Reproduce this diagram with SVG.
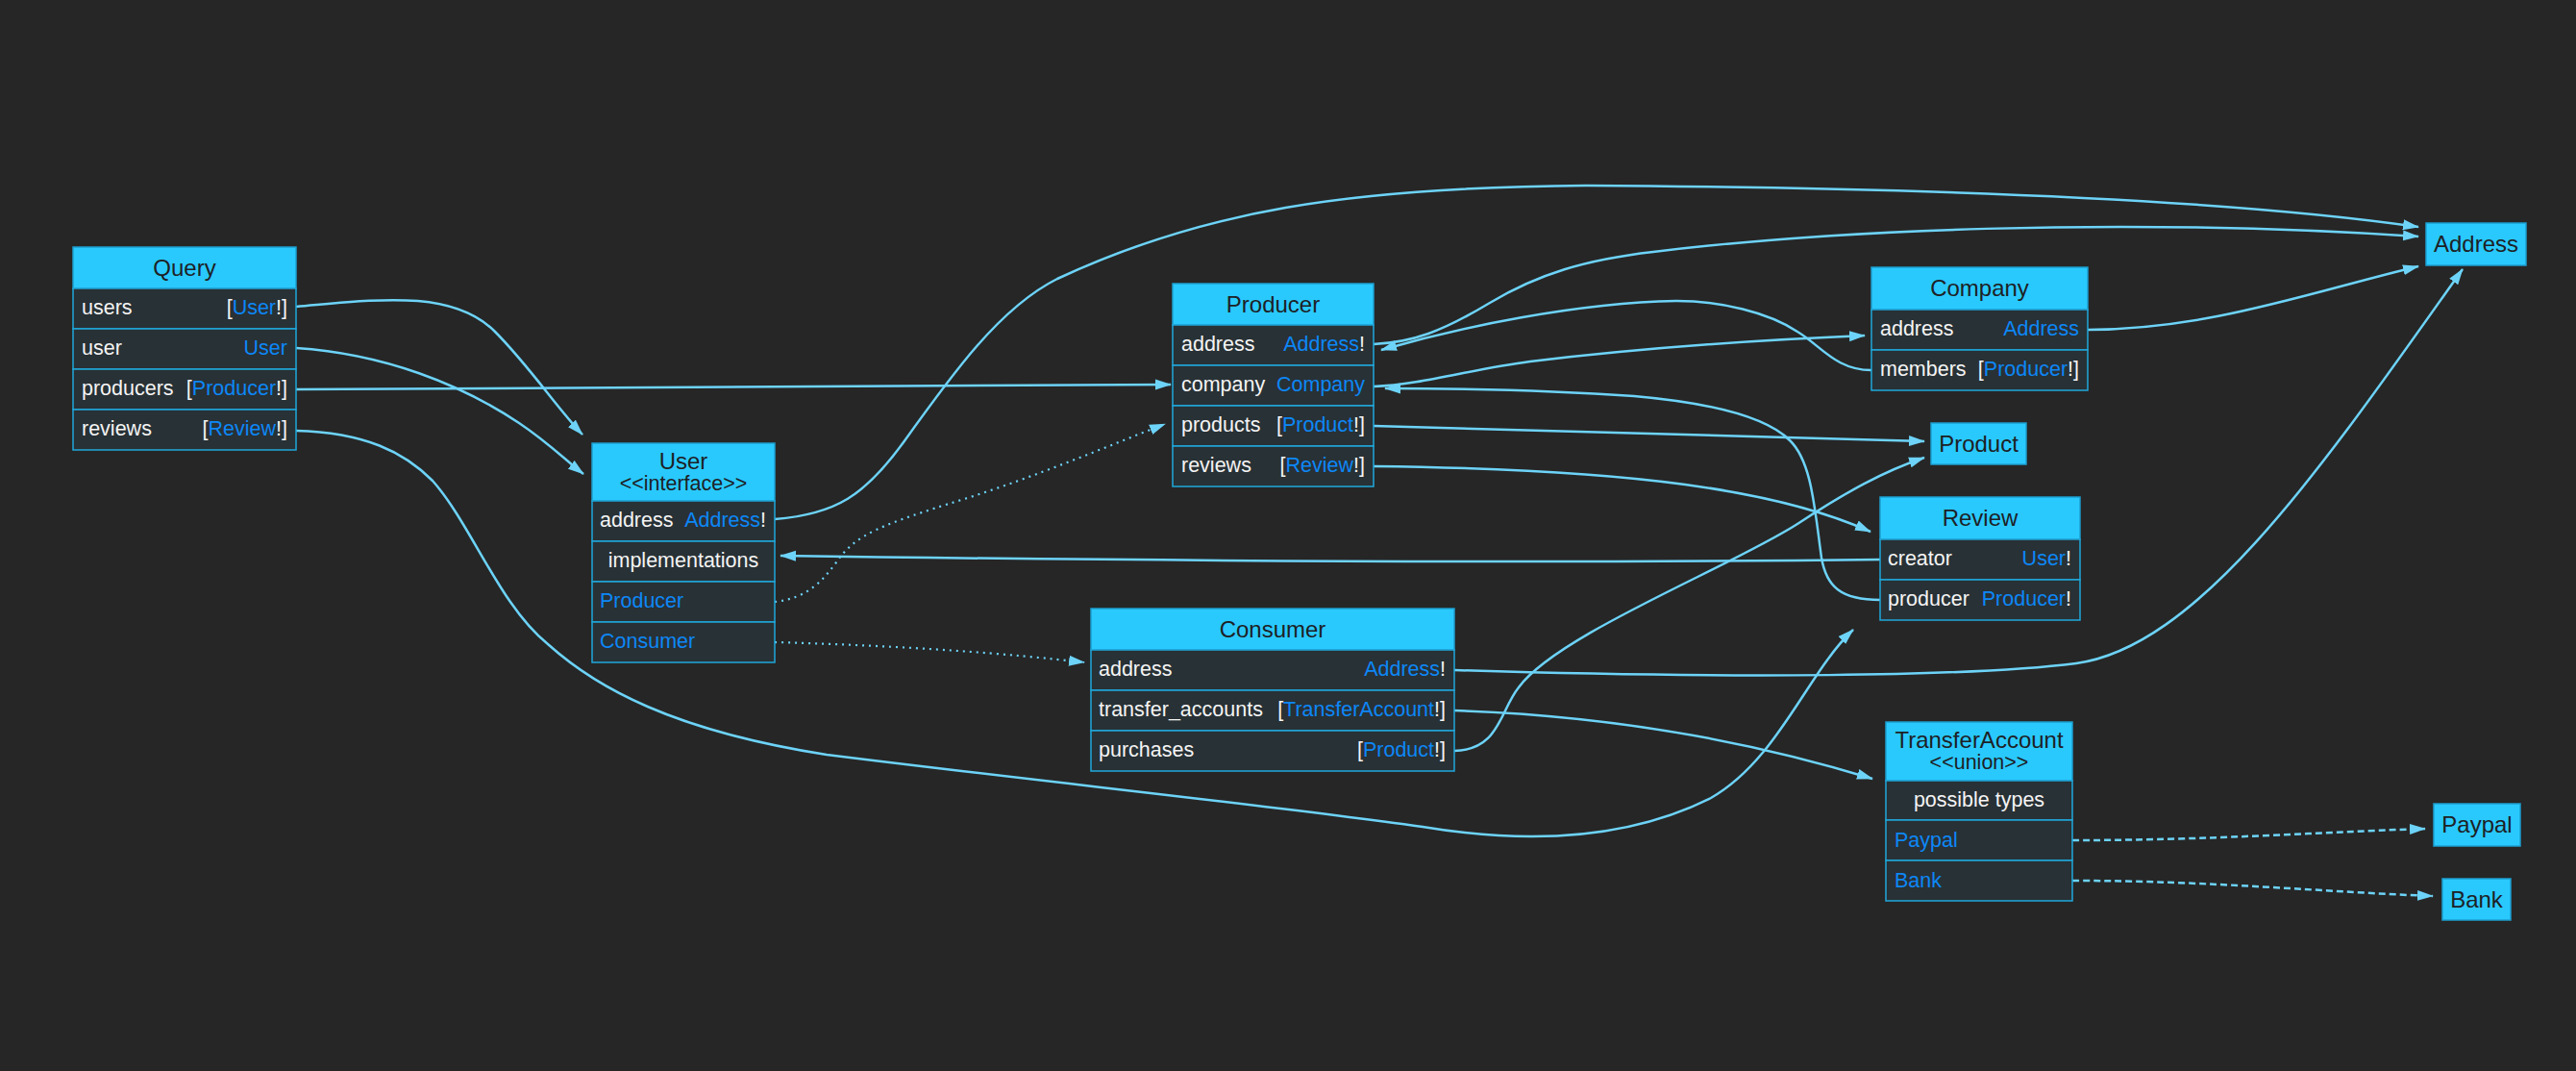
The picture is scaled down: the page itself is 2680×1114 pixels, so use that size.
<svg xmlns="http://www.w3.org/2000/svg" width="2680" height="1114" viewBox="0 0 2680 1114">
  <style>
    .hdr { fill: #29c9fe; stroke: #1d9fd0; stroke-width: 1.5; }
    .row { fill: #283135; stroke: #1fa8dc; stroke-width: 1.5; }
    text { font-family: "Liberation Sans", Arial, sans-serif; }
    .t { font-size: 21.5px; fill: #f4f4f4; }
    .r { text-anchor: end; }
    .c { text-anchor: middle; }
    .ty { fill: #0d87f7; }
    .h { font-size: 24px; fill: #1d2125; text-anchor: middle; }
    .sub { font-size: 21.5px; fill: #1d2125; text-anchor: middle; }
    .edge { fill: none; stroke: #6dd3f8; stroke-width: 2.5; }
    .dot { stroke-dasharray: 2 5; stroke-width: 2.2; }
    .dash { stroke-dasharray: 7 4; }
  </style>
  <defs>
    <marker id="arrow" markerUnits="userSpaceOnUse" markerWidth="17" markerHeight="12" viewBox="0 0 17 12" refX="16" refY="6" orient="auto">
      <path d="M0,0.5 L17,6 L0,11.5 z" fill="#6dd3f8"/>
    </marker>
  </defs>
  <rect width="2680" height="1114" fill="#262626"/>

  <!-- connectors -->
  <g id="edges">
    <path class="edge" marker-end="url(#arrow)" d="M308,319 C390,312 470,300 515,345 C550,380 580,425 606,452"/>
    <path class="edge" marker-end="url(#arrow)" d="M308,362 C400,368 480,400 540,440 C570,460 590,480 607,493"/>
    <path class="edge" marker-end="url(#arrow)" d="M308,405 C600,404 900,402 1218,400"/>
    <path class="edge" marker-end="url(#arrow)" d="M308,448 C380,450 420,470 450,500 C490,545 520,630 570,670 C620,715 700,760 860,785 C1100,815 1300,835 1480,860 C1600,880 1700,870 1780,830 C1850,790 1880,700 1928,655"/>
    <path class="edge" marker-end="url(#arrow)" d="M806,540 C870,535 900,515 940,460 C990,390 1040,320 1100,290 C1250,220 1400,195 1650,193 C1950,195 2300,205 2516,236"/>
    <path class="edge dot" marker-end="url(#arrow)" d="M806,626 C840,622 855,605 870,585 C890,555 920,545 1000,520 C1080,495 1150,465 1212,441"/>
    <path class="edge dot" marker-end="url(#arrow)" d="M806,668 C950,672 1050,680 1128,689"/>
    <path class="edge" marker-end="url(#arrow)" d="M1429,358 C1470,356 1500,345 1550,315 C1600,285 1650,270 1720,262 C1900,240 2200,225 2516,246"/>
    <path class="edge" marker-end="url(#arrow)" d="M1429,402 C1480,400 1530,384 1592,376 C1700,363 1820,354 1940,349"/>
    <path class="edge" marker-end="url(#arrow)" d="M1429,443 C1650,448 1850,455 2002,459"/>
    <path class="edge" marker-end="url(#arrow)" d="M1429,485 C1700,488 1850,510 1946,553"/>
    <path class="edge" marker-end="url(#arrow)" d="M1947,385 C1910,385 1895,360 1870,345 C1840,325 1790,313 1744,313 C1640,315 1520,340 1437,364"/>
    <path class="edge" marker-end="url(#arrow)" d="M2172,343 C2300,342 2400,305 2516,277"/>
    <path class="edge" marker-end="url(#arrow)" d="M1956,582 C1700,585 1300,585 812,578"/>
    <path class="edge" marker-end="url(#arrow)" d="M1956,624 C1915,624 1900,610 1895,580 C1888,530 1885,480 1862,458 C1840,436 1790,420 1700,412 C1600,405 1500,404 1441,404"/>
    <path class="edge" marker-end="url(#arrow)" d="M1513,697 C1800,706 2050,704 2160,690 C2290,672 2420,480 2562,280"/>
    <path class="edge" marker-end="url(#arrow)" d="M1513,739 C1700,745 1850,780 1948,810"/>
    <path class="edge" marker-end="url(#arrow)" d="M1513,781 C1560,780 1560,740 1580,715 C1620,660 1800,590 1870,545 C1920,512 1960,490 2002,476"/>
    <path class="edge dash" marker-end="url(#arrow)" d="M2156,874 C2300,874 2400,866 2523,862"/>
    <path class="edge dash" marker-end="url(#arrow)" d="M2156,916 C2300,916 2420,928 2531,932"/>
  </g>

  <!-- Query -->
  <g id="Query">
    <rect class="hdr" x="76" y="257" width="232" height="43"/>
    <text class="h" x="192" y="287">Query</text>
    <rect class="row" x="76" y="300" width="232" height="42"/>
    <rect class="row" x="76" y="342" width="232" height="42"/>
    <rect class="row" x="76" y="384" width="232" height="42"/>
    <rect class="row" x="76" y="426" width="232" height="42"/>
    <text class="t" x="85" y="327">users</text>
    <text class="t r" x="299" y="327">[<tspan class="ty">User</tspan>!]</text>
    <text class="t" x="85" y="369">user</text>
    <text class="t r ty" x="299" y="369">User</text>
    <text class="t" x="85" y="411">producers</text>
    <text class="t r" x="299" y="411">[<tspan class="ty">Producer</tspan>!]</text>
    <text class="t" x="85" y="453">reviews</text>
    <text class="t r" x="299" y="453">[<tspan class="ty">Review</tspan>!]</text>
  </g>

  <!-- User interface -->
  <g id="User">
    <rect class="hdr" x="616" y="461" width="190" height="60"/>
    <text class="h" x="711" y="488">User</text>
    <text class="sub" x="711" y="510">&lt;&lt;interface&gt;&gt;</text>
    <rect class="row" x="616" y="521" width="190" height="42"/>
    <rect class="row" x="616" y="563" width="190" height="42"/>
    <rect class="row" x="616" y="605" width="190" height="42"/>
    <rect class="row" x="616" y="647" width="190" height="42"/>
    <text class="t" x="624" y="548">address</text>
    <text class="t r" x="797" y="548"><tspan class="ty">Address</tspan>!</text>
    <text class="t c" x="711" y="590">implementations</text>
    <text class="t ty" x="624" y="632">Producer</text>
    <text class="t ty" x="624" y="674">Consumer</text>
  </g>

  <!-- Producer -->
  <g id="Producer">
    <rect class="hdr" x="1220" y="295" width="209" height="43"/>
    <text class="h" x="1324.5" y="325">Producer</text>
    <rect class="row" x="1220" y="338" width="209" height="42"/>
    <rect class="row" x="1220" y="380" width="209" height="42"/>
    <rect class="row" x="1220" y="422" width="209" height="42"/>
    <rect class="row" x="1220" y="464" width="209" height="42"/>
    <text class="t" x="1229" y="365">address</text>
    <text class="t r" x="1420" y="365"><tspan class="ty">Address</tspan>!</text>
    <text class="t" x="1229" y="407">company</text>
    <text class="t r ty" x="1420" y="407">Company</text>
    <text class="t" x="1229" y="449">products</text>
    <text class="t r" x="1420" y="449">[<tspan class="ty">Product</tspan>!]</text>
    <text class="t" x="1229" y="491">reviews</text>
    <text class="t r" x="1420" y="491">[<tspan class="ty">Review</tspan>!]</text>
  </g>

  <!-- Consumer -->
  <g id="Consumer">
    <rect class="hdr" x="1135" y="633" width="378" height="43"/>
    <text class="h" x="1324" y="663">Consumer</text>
    <rect class="row" x="1135" y="676" width="378" height="42"/>
    <rect class="row" x="1135" y="718" width="378" height="42"/>
    <rect class="row" x="1135" y="760" width="378" height="42"/>
    <text class="t" x="1143" y="703">address</text>
    <text class="t r" x="1504" y="703"><tspan class="ty">Address</tspan>!</text>
    <text class="t" x="1143" y="745">transfer_accounts</text>
    <text class="t r" x="1504" y="745">[<tspan class="ty">TransferAccount</tspan>!]</text>
    <text class="t" x="1143" y="787">purchases</text>
    <text class="t r" x="1504" y="787">[<tspan class="ty">Product</tspan>!]</text>
  </g>

  <!-- Company -->
  <g id="Company">
    <rect class="hdr" x="1947" y="278" width="225" height="44"/>
    <text class="h" x="2059.5" y="308">Company</text>
    <rect class="row" x="1947" y="322" width="225" height="42"/>
    <rect class="row" x="1947" y="364" width="225" height="42"/>
    <text class="t" x="1956" y="349">address</text>
    <text class="t r ty" x="2163" y="349">Address</text>
    <text class="t" x="1956" y="391">members</text>
    <text class="t r" x="2163" y="391">[<tspan class="ty">Producer</tspan>!]</text>
  </g>

  <!-- Review -->
  <g id="Review">
    <rect class="hdr" x="1956" y="517" width="208" height="44"/>
    <text class="h" x="2060" y="547">Review</text>
    <rect class="row" x="1956" y="561" width="208" height="42"/>
    <rect class="row" x="1956" y="603" width="208" height="42"/>
    <text class="t" x="1964" y="588">creator</text>
    <text class="t r" x="2155" y="588"><tspan class="ty">User</tspan>!</text>
    <text class="t" x="1964" y="630">producer</text>
    <text class="t r" x="2155" y="630"><tspan class="ty">Producer</tspan>!</text>
  </g>

  <!-- TransferAccount union -->
  <g id="TransferAccount">
    <rect class="hdr" x="1962" y="751" width="194" height="61"/>
    <text class="h" x="2059" y="778">TransferAccount</text>
    <text class="sub" x="2059" y="800">&lt;&lt;union&gt;&gt;</text>
    <rect class="row" x="1962" y="812" width="194" height="41"/>
    <rect class="row" x="1962" y="853" width="194" height="42"/>
    <rect class="row" x="1962" y="895" width="194" height="42"/>
    <text class="t c" x="2059" y="839">possible types</text>
    <text class="t ty" x="1971" y="881">Paypal</text>
    <text class="t ty" x="1971" y="923">Bank</text>
  </g>

  <!-- scalar-like leaf types -->
  <g id="Address">
    <rect class="hdr" x="2524" y="232" width="104" height="44"/>
    <text class="h" x="2576" y="262">Address</text>
  </g>
  <g id="Product">
    <rect class="hdr" x="2009" y="440" width="99" height="43"/>
    <text class="h" x="2058.5" y="470">Product</text>
  </g>
  <g id="Paypal">
    <rect class="hdr" x="2532" y="836" width="90" height="44"/>
    <text class="h" x="2577" y="866">Paypal</text>
  </g>
  <g id="Bank">
    <rect class="hdr" x="2541" y="914" width="71" height="43"/>
    <text class="h" x="2576.5" y="944">Bank</text>
  </g>
</svg>
